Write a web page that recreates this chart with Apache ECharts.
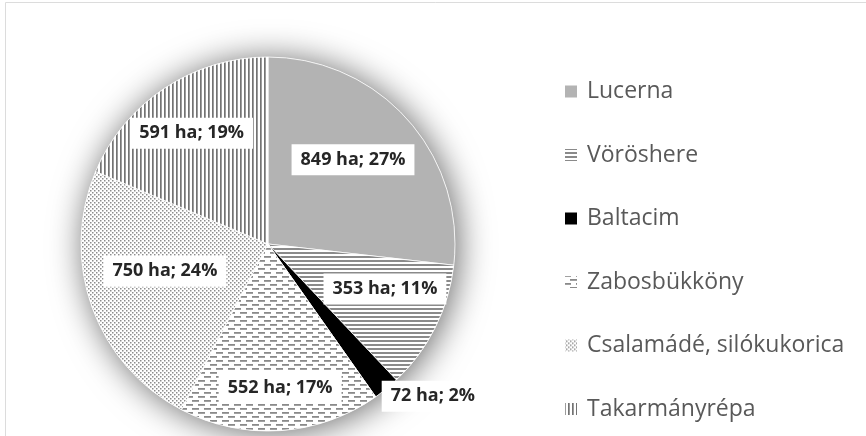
<!DOCTYPE html>
<html>
<head>
<meta charset="utf-8">
<style>
  html, body { margin: 0; padding: 0; background: #ffffff; }
  #chart { width: 866px; height: 436px; }
</style>
<script src="https://cdn.jsdelivr.net/npm/echarts@6/dist/echarts.min.js"></script>
</head>
<body>
<div id="chart"></div>
<script>
// Takarmánynövények vetésterülete (ha)
const categories = ['Lucerna', 'Vöröshere', 'Baltacim', 'Zabosbükköny', 'Csalamádé, silókukorica', 'Takarmányrépa'];
const areaHa = [849, 353, 72, 552, 750, 591];

// label placement: [angle nudge in degrees from the slice middle, fraction of the radius]
const labelPlacement = [[-3, 0.64], [-5.5, 0.67], [-8, 1.2], [-1, 0.77], [5, 0.57], [-1, 0.72]];

const CENTER = [268, 244];
const RADIUS = 187;

function tile(w, h, draw) {
  const c = document.createElement('canvas');
  c.width = w; c.height = h;
  const ctx = c.getContext('2d');
  ctx.fillStyle = '#ffffff';
  ctx.fillRect(0, 0, w, h);
  draw(ctx);
  return { image: c, repeat: 'repeat' };
}

const fills = [
  '#b3b3b3',
  // horizontal hatching
  tile(4, 4, ctx => { ctx.fillStyle = '#8a8a8a'; ctx.fillRect(0, 0, 4, 2); }),
  '#000000',
  // dashed horizontal lines, staggered
  tile(12, 8, ctx => {
    ctx.fillStyle = '#8a8a8a';
    ctx.fillRect(0, 0, 7, 1.8);
    ctx.fillRect(6, 4, 7, 1.8);
    ctx.fillRect(-6, 4, 7, 1.8);
  }),
  // fine dot grid
  tile(4, 4, ctx => {
    ctx.fillStyle = '#8c8c8c';
    ctx.fillRect(0, 0, 1.5, 1.5);
    ctx.fillRect(2, 2, 1.5, 1.5);
  }),
  // vertical hatching
  tile(4, 4, ctx => { ctx.fillStyle = '#737373'; ctx.fillRect(0, 0, 1.7, 4); })
];

const total = areaHa.reduce((a, b) => a + b, 0);
const midAngles = [];
{
  let acc = 0;
  areaHa.forEach(v => { midAngles.push((acc + v / 2) / total * 360); acc += v; });
}

const chart = echarts.init(document.getElementById('chart'), null, { renderer: 'canvas' });

chart.setOption({
  animation: false,
  backgroundColor: '#ffffff',
  graphic: [
    { type: 'line', shape: { x1: 5.5, y1: 2.5, x2: 866, y2: 2.5 }, style: { stroke: '#dcdcdc', lineWidth: 1 }, silent: true },
    { type: 'line', shape: { x1: 5.5, y1: 2.5, x2: 5.5, y2: 436 }, style: { stroke: '#dcdcdc', lineWidth: 1 }, silent: true }
  ],
  legend: {
    data: categories,
    orient: 'vertical',
    left: 558,
    top: 75,
    itemWidth: 14,
    itemHeight: 14,
    itemGap: 40.5,
    icon: 'rect',
    textStyle: {
      fontFamily: 'Open Sans',
      fontSize: 23,
      color: '#595959',
      padding: [0, 0, 0, 4]
    }
  },
  series: [
    {
      // soft halo behind the pie
      type: 'pie',
      silent: true,
      center: CENTER,
      radius: RADIUS,
      label: { show: false },
      labelLine: { show: false },
      itemStyle: {
        color: '#ffffff',
        shadowBlur: 34,
        shadowColor: 'rgba(0,0,0,0.6)',
        shadowOffsetX: 3,
        shadowOffsetY: 2
      },
      data: [{ value: 1, name: '__halo' }],
      z: 1
    },
    {
      type: 'pie',
      center: CENTER,
      radius: RADIUS,
      startAngle: 90,
      clockwise: true,
      avoidLabelOverlap: false,
      percentPrecision: 0,
      itemStyle: { borderColor: '#ffffff', borderWidth: 0.8 },
      label: {
        show: true,
        position: 'inside',
        formatter: '{c} ha; {d}%',
        fontFamily: 'Open Sans',
        fontWeight: 'bold',
        fontSize: 18,
        color: '#262626',
        backgroundColor: '#ffffff',
        padding: [7, 9, 6, 9]
      },
      labelLine: { show: false },
      labelLayout: function (p) {
        const i = p.dataIndex;
        const ang = (midAngles[i] + labelPlacement[i][0]) * Math.PI / 180;
        const r = RADIUS * labelPlacement[i][1];
        return {
          x: CENTER[0] + r * Math.sin(ang),
          y: CENTER[1] - r * Math.cos(ang)
        };
      },
      emphasis: { disabled: true },
      data: categories.map((name, i) => ({
        name: name,
        value: areaHa[i],
        itemStyle: { color: fills[i] }
      })),
      z: 2
    }
  ]
});
</script>
</body>
</html>
